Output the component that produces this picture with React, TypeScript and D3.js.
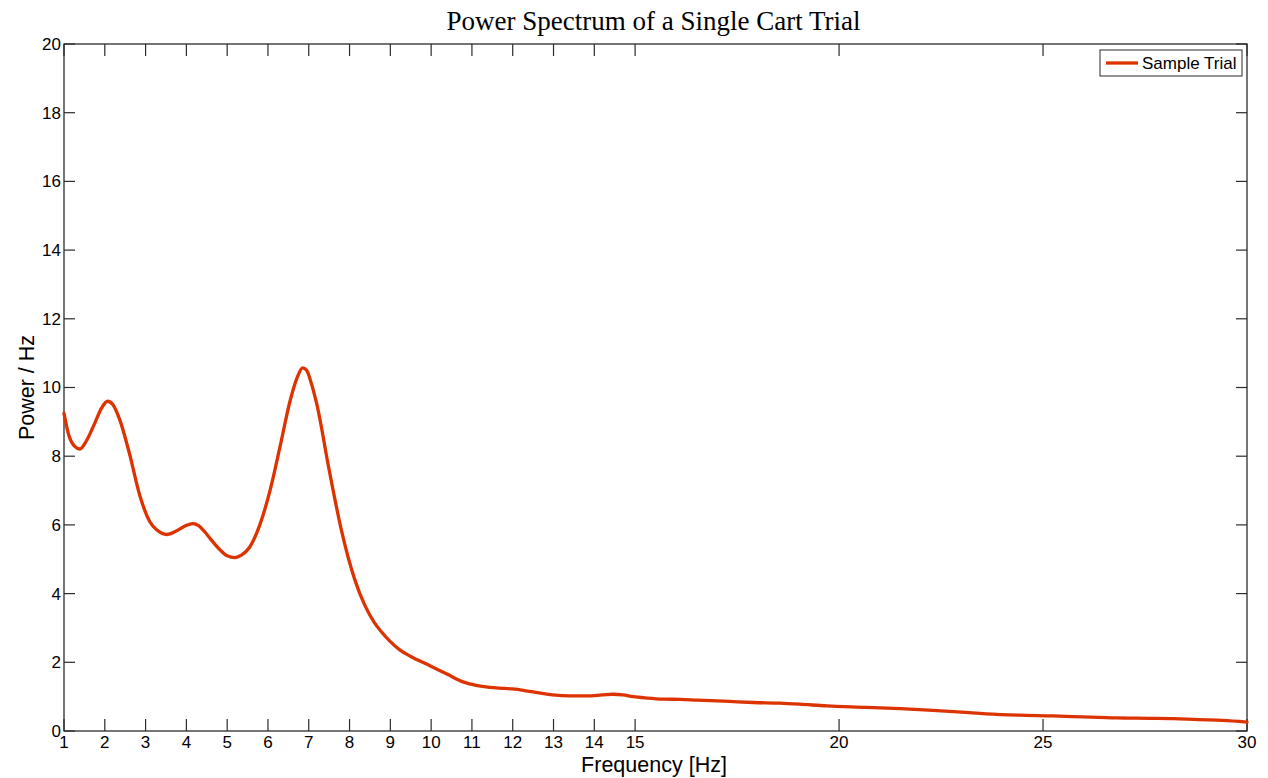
import React from "react";
import * as d3 from "d3";

const freq = [1.0, 1.12, 1.25, 1.39, 1.55, 1.75, 1.92, 2.07, 2.2, 2.37, 2.6, 2.86, 3.1, 3.28, 3.52, 3.75, 3.97, 4.16, 4.3, 4.45, 4.62, 4.82, 5.0, 5.19, 5.35, 5.55, 5.8, 6.05, 6.3, 6.54, 6.72, 6.85, 6.95, 7.03, 7.2, 7.5, 7.8, 8.13, 8.37, 8.6, 8.8, 9.0, 9.23, 9.5, 9.97, 10.4, 10.78, 11.1, 11.44, 11.8, 12.18, 12.6, 12.98, 13.4, 13.82, 14.2, 14.46, 14.7, 14.95, 15.3, 15.68, 16.1, 16.51, 17.32, 17.9, 18.55, 19.04, 19.7, 20.68, 21.5, 22.3, 23.0, 23.6, 24.4, 25.24, 25.97, 26.8, 27.6, 28.2, 28.8, 29.4, 30.0];
const power = [9.25, 8.6, 8.3, 8.21, 8.45, 8.95, 9.4, 9.6, 9.5, 9.05, 8.1, 6.85, 6.1, 5.85, 5.72, 5.82, 5.97, 6.04, 5.98, 5.8, 5.55, 5.28, 5.1, 5.05, 5.12, 5.35, 6.0, 7.0, 8.3, 9.6, 10.3, 10.57, 10.5, 10.25, 9.5, 7.6, 5.85, 4.4, 3.67, 3.17, 2.86, 2.6, 2.36, 2.17, 1.9, 1.65, 1.43, 1.33, 1.27, 1.24, 1.2, 1.12, 1.05, 1.02, 1.02, 1.05, 1.07, 1.05, 1.0, 0.96, 0.93, 0.92, 0.9, 0.86, 0.83, 0.81, 0.78, 0.73, 0.69, 0.65, 0.6, 0.55, 0.5, 0.46, 0.44, 0.41, 0.38, 0.37, 0.36, 0.33, 0.31, 0.26];
const xTicks = [1, 2, 3, 4, 5, 6, 7, 8, 9, 10, 11, 12, 13, 14, 15, 20, 25, 30];
const yTicks = [0, 2, 4, 6, 8, 10, 12, 14, 16, 18, 20];

const W = 1268;
const H = 778;
const L = 64;
const T = 44;
const R = 1247;
const B = 731;

export default function App() {
  const x = d3.scaleLinear().domain([1, 30]).range([L, R]);
  const y = d3.scaleLinear().domain([0, 20]).range([B, T]);
  const line = d3
    .line<number>()
    .x((_, i) => x(freq[i]))
    .y((d) => y(d))
    .curve(d3.curveMonotoneX);
  const axisColor = "#2b2b2b";
  const font = "Arial, 'Liberation Sans', sans-serif";
  return (
    <svg width={W} height={H} style={{ display: "block", position: "fixed", left: 0, top: 0, background: "#fff" }}>
      <rect x={0} y={0} width={W} height={H} fill="#fff" />
      <text x={653.5} y={30} textAnchor="middle" fontFamily="'Times New Roman', 'Liberation Serif', serif" fontSize={27} fill="#000">
        Power Spectrum of a Single Cart Trial
      </text>
      <rect x={L} y={T} width={R - L} height={B - T} fill="none" stroke={axisColor} strokeWidth={1.3} />
      {xTicks.map((t) => (
        <g key={"x" + t}>
          <line x1={x(t)} x2={x(t)} y1={B} y2={B - 12} stroke={axisColor} strokeWidth={1.2} />
          <line x1={x(t)} x2={x(t)} y1={T} y2={T + 12} stroke={axisColor} strokeWidth={1.2} />
          <text x={x(t)} y={748} textAnchor="middle" fontFamily={font} fontSize={17} fill="#000">
            {t}
          </text>
        </g>
      ))}
      {yTicks.map((t) => (
        <g key={"y" + t}>
          <line x1={L} x2={L + 11} y1={y(t)} y2={y(t)} stroke={axisColor} strokeWidth={1.2} />
          <line x1={R} x2={R - 11} y1={y(t)} y2={y(t)} stroke={axisColor} strokeWidth={1.2} />
          <text x={L - 3} y={y(t)} dy="0.35em" textAnchor="end" fontFamily={font} fontSize={17} fill="#000">
            {t}
          </text>
        </g>
      ))}
      <text x={654} y={771.5} textAnchor="middle" fontFamily={font} fontSize={21.5} fill="#000">
        Frequency [Hz]
      </text>
      <text transform={`translate(34, ${(T + B) / 2}) rotate(-90)`} textAnchor="middle" fontFamily={font} fontSize={21.5} fill="#000">
        Power / Hz
      </text>
      <path d={line(power) || ""} fill="none" stroke="#dc3300" strokeWidth={3.3} strokeLinejoin="round" strokeLinecap="round" />
      <rect x={1100} y={50} width={142} height={26} fill="#fff" stroke={axisColor} strokeWidth={1} />
      <line x1={1106} x2={1138} y1={63} y2={63} stroke="#dc3300" strokeWidth={3.3} />
      <text x={1142} y={63} dy="0.35em" fontFamily={font} fontSize={17} fill="#000">
        Sample Trial
      </text>
    </svg>
  );
}
